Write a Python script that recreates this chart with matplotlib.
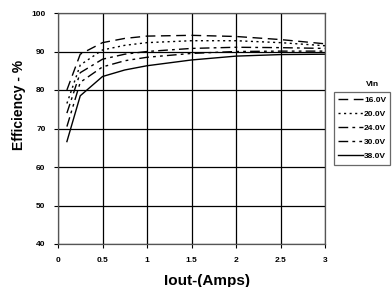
import matplotlib
matplotlib.use("Agg")
import matplotlib.pyplot as plt

iout = [0.1, 0.25, 0.5, 0.75, 1.0, 1.5, 2.0, 2.5, 3.0]

eff_16v = [80.0, 89.3, 92.3, 93.4, 94.0, 94.2, 93.9, 93.1, 92.0]
eff_20v = [76.5, 86.5, 90.4, 91.6, 92.3, 92.8, 92.8, 92.3, 91.5]
eff_24v = [74.0, 84.5, 88.0, 89.3, 90.0, 90.8, 91.1, 91.0, 90.8]
eff_30v = [70.5, 82.0, 86.0, 87.6, 88.5, 89.5, 90.0, 90.1, 90.1]
eff_38v = [66.6, 78.5, 83.5, 85.2, 86.3, 87.8, 88.8, 89.2, 89.3]

labels = ["16.0V", "20.0V", "24.0V", "30.0V", "38.0V"]

plt.rcParams['font.family'] = ['Liberation Sans', 'DejaVu Sans']
plt.rcParams['font.weight'] = 'bold'

fig = plt.figure(figsize=(3.92, 2.87), dpi=100)
ax = fig.add_axes([58 / 392, 1 - 244 / 287, 267 / 392, 231 / 287])

styles = [(0, (7, 4)), (0, (1.5, 2.5)), (0, (7, 3, 2, 3)), (0, (7, 3, 2, 3, 2, 3)), '-']
series = [eff_16v, eff_20v, eff_24v, eff_30v, eff_38v]
handles = []
for vals, ls, lab in zip(series, styles, labels):
    h, = ax.plot(iout, vals, color='black', linestyle=ls, linewidth=1.0, label=lab)
    handles.append(h)

ax.set_xlim(0, 3)
ax.set_ylim(40, 100)
ax.set_xticks([0, 0.5, 1, 1.5, 2, 2.5, 3])
ax.set_xticklabels(["0", "0.5", "1", "1.5", "2", "2.5", "3"])
ax.set_yticks(range(40, 101, 10))
ax.grid(True, color='black', linewidth=0.9)
ax.set_axisbelow(True)
ax.tick_params(labelsize=6, length=3, width=0.8, pad=6)
for s in ax.spines.values():
    s.set_linewidth(0.9)
    s.set_color('#555555')

# axis titles placed by hand, as in the reference
fig.text(207 / 392, 1 - 281 / 287, "Iout-(Amps)", fontsize=11, fontweight='bold',
         ha='center', va='center',
         family=['Liberation Sans Narrow', 'Liberation Sans'])
fig.text(19 / 392, 1 - 105 / 287, "Efficiency - %", fontsize=10, fontweight='bold',
         ha='center', va='center', rotation=90)

fig.text(372 / 392, 1 - 85 / 287, "Vin", fontsize=6, fontweight='bold',
         ha='center', va='center')
leg = fig.legend(handles=handles, loc='upper left',
                 bbox_to_anchor=(334 / 392, 1 - 92 / 287),
                 fontsize=6, frameon=True, fancybox=False,
                 handlelength=3.0, handletextpad=0.1, labelspacing=0.75,
                 borderpad=0.5, borderaxespad=0)
leg.get_frame().set_edgecolor('#444444')
leg.get_frame().set_linewidth(0.9)

fig.savefig("out.png", dpi=100)
